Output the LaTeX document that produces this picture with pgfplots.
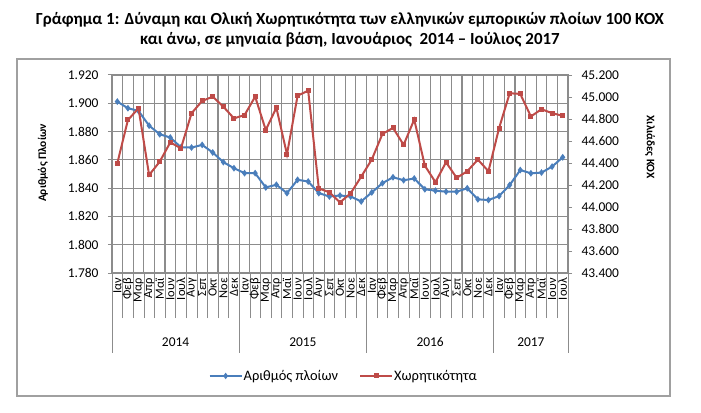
\documentclass[border=0pt]{standalone}
\usepackage{fontspec}
\setmainfont{Carlito}
\usepackage{pgfplots}
\usepackage{pgfplotstable}
\pgfplotsset{compat=1.18}

\definecolor{shipblue}{RGB}{74,126,187}
\definecolor{gtred}{RGB}{190,75,72}
\definecolor{gridgray}{RGB}{140,140,140}
\definecolor{framegray}{RGB}{160,160,160}

% i = month index from Jan 2014; ships = number of ships (thousands); gt = thousand GT
\pgfplotstableread{
i  ships   gt
0  1.9012  44.397
1  1.8965  44.791
2  1.8946  44.897
3  1.8842  44.291
4  1.8781  44.412
5  1.8758  44.588
6  1.8689  44.533
7  1.8687  44.852
8  1.8706  44.964
9  1.8652  45.003
10 1.8584  44.912
11 1.8541  44.806
12 1.8506  44.836
13 1.8506  45.003
14 1.8405  44.700
15 1.8424  44.903
16 1.8365  44.479
17 1.8459  45.012
18 1.8447  45.057
19 1.8365  44.170
20 1.8341  44.133
21 1.8348  44.042
22 1.8341  44.124
23 1.8306  44.276
24 1.8370  44.432
25 1.8435  44.664
26 1.8477  44.719
27 1.8456  44.565
28 1.8468  44.795
29 1.8392  44.376
30 1.8382  44.226
31 1.8375  44.407
32 1.8375  44.265
33 1.8399  44.325
34 1.8321  44.431
35 1.8316  44.325
36 1.8344  44.717
37 1.8422  45.034
38 1.8528  45.028
39 1.8505  44.823
40 1.8510  44.889
41 1.8552  44.853
42 1.8618  44.829
}\monthly

\pgfplotsset{
  common/.style={
    scale only axis,
    width=456bp, height=198bp,
    at={(0,0)}, anchor=south west,
    xmin=-0.5, xmax=42.5,
    /pgf/number format/assume math mode=true,
    /pgf/number format/.cd, fixed, fixed zerofill, precision=3, 1000 sep={}, use period,
    /pgfplots/.cd,
    tick label style={font=\fontsize{13.5}{14}\selectfont, text=black},
    axis line style={gridgray, line width=1.2bp},
    major tick length=4bp,
    tick align=outside,
    every tick/.style={gridgray, line width=1bp},
    clip=false,
  },
}

\begin{document}
\begin{tikzpicture}
\useasboundingbox (-112bp,-140bp) rectangle (589bp,273bp);

\begin{axis}[
  common,
  ymin=1.78, ymax=1.92,
  ytick={1.78,1.80,1.82,1.84,1.86,1.88,1.90,1.92},
  ytick pos=left, xtick pos=bottom,
  y tick label style={xshift=-6bp},
  ymajorgrids,
  major grid style={gridgray, line width=1.1bp},
  xtick={0,...,42},
  xticklabels={Ιαν,Φεβ,Μαρ,Απρ,Μαϊ,Ιουν,Ιουλ,Αυγ,Σεπ,Οκτ,Νοε,Δεκ,
               Ιαν,Φεβ,Μαρ,Απρ,Μαϊ,Ιουν,Ιουλ,Αυγ,Σεπ,Οκτ,Νοε,Δεκ,
               Ιαν,Φεβ,Μαρ,Απρ,Μαϊ,Ιουν,Ιουλ,Αυγ,Σεπ,Οκτ,Νοε,Δεκ,
               Ιαν,Φεβ,Μαρ,Απρ,Μαϊ,Ιουν,Ιουλ},
  major x tick style={draw=none},
  x tick label style={rotate=90, anchor=east, inner sep=1bp,
    font=\fontsize{12.5}{13}\selectfont},
  minor xtick={-0.5,0.5,...,42.5},
  xminorgrids,
  minor grid style={gridgray, line width=1.1bp},
  minor tick length=45bp,
  minor x tick style={gridgray, line width=0.6bp},
]
  \addplot[color=shipblue, line width=2bp, mark=diamond*, mark size=1.8bp,
    mark options={solid}] table[x=i, y=ships] {\monthly};
  % year groups under the month labels
  \pgfplotsinvokeforeach{-0.5,11.5,23.5,35.5,42.5}{
    \draw[gridgray, line width=0.8bp] (axis cs:#1,1.78) -- ([yshift=-80bp]axis cs:#1,1.78);
  }
  \node[font=\fontsize{13.5}{14}\selectfont, yshift=-69bp] at (axis cs:5.5,1.78) {2014};
  \node[font=\fontsize{13.5}{14}\selectfont, yshift=-69bp] at (axis cs:17.5,1.78) {2015};
  \node[font=\fontsize{13.5}{14}\selectfont, yshift=-69bp] at (axis cs:29.5,1.78) {2016};
  \node[font=\fontsize{13.5}{14}\selectfont, yshift=-69bp] at (axis cs:39,1.78) {2017};
\end{axis}

\begin{axis}[
  common,
  ymin=43.4, ymax=45.2,
  ytick={43.4,43.6,43.8,44.0,44.2,44.4,44.6,44.8,45.0,45.2},
  axis y line*=right, axis x line=none,
  y tick label style={xshift=6bp},
  legend style={at={(0.507,-0.52)}, anchor=center, draw=none,
    font=\fontsize{14.5}{15}\selectfont, legend columns=2,
    /tikz/every even column/.append style={column sep=20bp},
    nodes={inner sep=1bp}},
  legend image code/.code={
    \draw[mark repeat=2, mark phase=2] plot coordinates {(0bp,0bp) (16bp,0bp) (32bp,0bp)};},
]
  \addlegendimage{color=shipblue, line width=2bp, mark=diamond*, mark size=1.6bp}
  \addlegendentry{Αριθμός πλοίων}
  \addplot[color=gtred, line width=2bp, mark=square*, mark size=1.5bp,
    mark options={solid}] table[x=i, y=gt] {\monthly};
  \addlegendentry{Χωρητικότητα}
\end{axis}

% axis titles
\node[rotate=90, font=\bfseries\fontsize{11.5}{12}\selectfont] at (-69bp,110bp) {Αριθμός Πλοίων};
\node[rotate=-90, font=\bfseries\fontsize{11.5}{12}\selectfont] at (538bp,126bp) {Χιλιάδες ΚΟΧ};

% chart title
\node[font=\bfseries\fontsize{17}{20}\selectfont, align=center] at (238bp,243bp)
  {Γράφημα 1: Δύναμη και Ολική Χωρητικότητα των ελληνικών εμπορικών πλοίων 100 ΚΟΧ\\
   και άνω, σε μηνιαία βάση, Ιανουάριος\ \ 2014 -- Ιούλιος 2017};

% chart frame
\draw[framegray, line width=1.2bp] (-95bp,-123bp) rectangle (558bp,214bp);
\end{tikzpicture}
\end{document}
